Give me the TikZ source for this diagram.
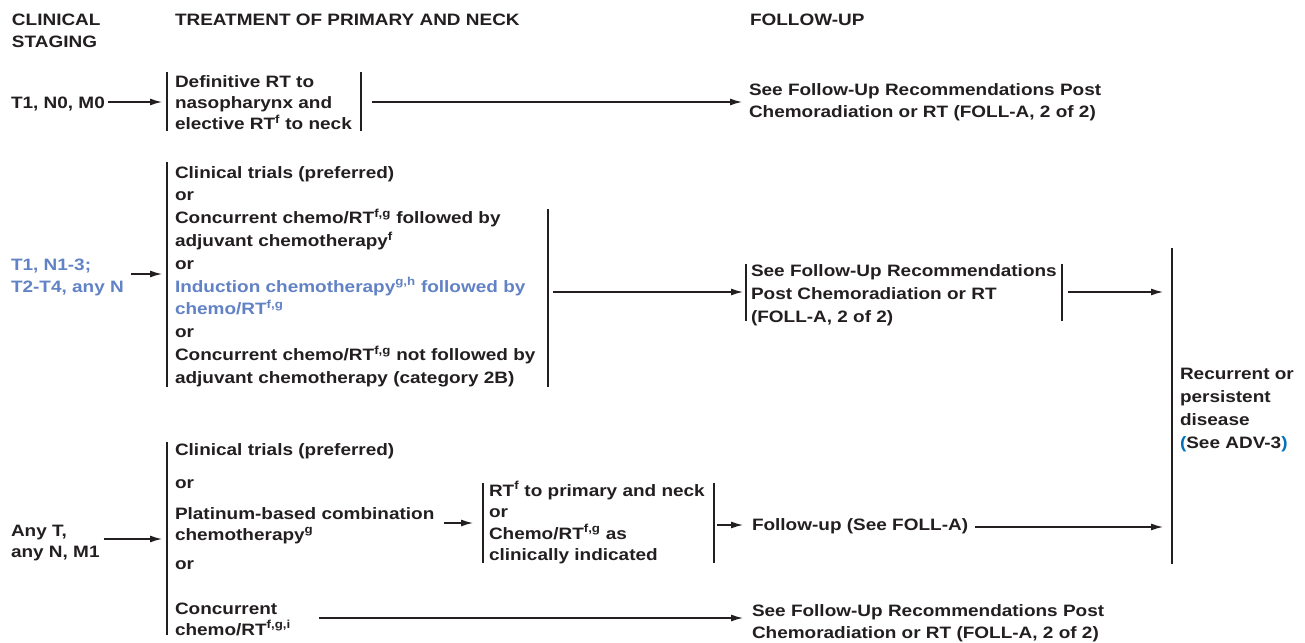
\documentclass[tikz,border=0pt]{standalone}
\usepackage{fontspec}
\setmainfont{Liberation Sans}[FakeStretch=1.15]
\usetikzlibrary{arrows.meta,calc}
\definecolor{ink}{RGB}{35,31,32}
\definecolor{lblue}{RGB}{98,130,198}
\definecolor{dblue}{RGB}{0,114,188}
\begin{document}
\begin{tikzpicture}[x=1pt,y=-1pt,
  every node/.style={inner sep=0pt, outer sep=0pt},
  txt/.style={anchor=base west, align=left, text=ink, font=\fontsize{16.5}{#1}\selectfont\bfseries},
  txt/.default=21,
  bar/.style={draw=ink, line width=1.4pt},
  arr/.style={draw=ink, line width=1.3pt, -{Latex[length=12pt,width=7pt]}}]
\useasboundingbox[fill=white] (0,0) rectangle (1305,642);

% headers (anchor = baseline of the last line)
\node[txt=21.7] (hstage) at (12,47.3) {CLINICAL\\STAGING};
\node[txt] (htreat) at (175,25.6) {TREATMENT OF PRIMARY AND NECK};
\node[txt] (hfollow) at (750,25.6) {FOLLOW-UP};

% row 1
\coordinate (r1) at (0,102);
\node[txt] (s1) at (11,108) {T1, N0, M0};
\node[txt] (t1) at (175,129.6) {Definitive RT to\\nasopharynx and\\elective RT\textsuperscript{f} to neck};
\node[txt] (f1) at (749,117) {See Follow-Up Recommendations Post\\Chemoradiation or RT (FOLL-A, 2 of 2)};
\coordinate (b1lt) at (167,72); \coordinate (b1lb) at (167,131);
\coordinate (b1rt) at (361,72); \coordinate (b1rb) at (361,131);
\draw[bar] (b1lt) -- (b1lb);
\draw[bar] (b1rt) -- (b1rb);
\draw[arr] ($(s1.east |- r1)+(3,0)$) -- ($(b1lt |- r1)+(-5,0)$);
\draw[arr] ($(b1rt |- r1)+(11,0)$) -- ($(f1.west |- r1)+(-7,0)$);

% row 2
\coordinate (r2) at (0,274);
\coordinate (r2b) at (0,292);
\node[txt=22, text=lblue] (s2) at (11,292) {T1, N1-3;\\T2-T4, any N};
\node[txt=22.8] (t2) at (175,383.2) {Clinical trials (preferred)\\or\\Concurrent chemo/RT\textsuperscript{f,g} followed by\\adjuvant chemotherapy\textsuperscript{f}\\or\\{\color{lblue}Induction chemotherapy\textsuperscript{g,h} followed by}\\{\color{lblue}chemo/RT\textsuperscript{f,g}}\\or\\Concurrent chemo/RT\textsuperscript{f,g} not followed by\\adjuvant chemotherapy (category 2B)};
\node[txt=23] (f2) at (751,322) {See Follow-Up Recommendations\\Post Chemoradiation or RT\\(FOLL-A, 2 of 2)};
\node[txt=23] (rec) at (1180,448) {Recurrent or\\persistent\\disease\\{\color{dblue}(}See ADV-3{\color{dblue})}};
\coordinate (b2lt) at (167,162); \coordinate (b2lb) at (167,387);
\coordinate (b2rt) at (548,209); \coordinate (b2rb) at (548,387);
\coordinate (b2ft) at (746,264); \coordinate (b2fb) at (746,321);
\coordinate (b2gt) at (1062,264); \coordinate (b2gb) at (1062,321);
\coordinate (bigt) at (1172,248); \coordinate (bigb) at (1172,564);
\draw[bar] (b2lt) -- (b2lb);
\draw[bar] (b2rt) -- (b2rb);
\draw[bar] (b2ft) -- (b2fb);
\draw[bar] (b2gt) -- (b2gb);
\draw[bar] (bigt) -- (bigb);
\draw[arr] ($(s2.east |- r2)+(7,0)$) -- ($(b2lt |- r2)+(-5,0)$);
\draw[arr] ($(b2rt |- r2b)+(5,0)$) -- ($(b2ft |- r2b)+(-3,0)$);
\draw[arr] ($(b2gt |- r2b)+(6,0)$) -- ($(bigt |- r2b)+(-9,0)$);

% row 3
\coordinate (r3) at (0,539);
\coordinate (r3b) at (0,523);
\coordinate (r3c) at (0,525);
\coordinate (r3d) at (0,527);
\coordinate (r3e) at (0,618);
\node[txt=21.5] (s3) at (11,557.5) {Any T,\\any N, M1};
\node[txt=21] (t3) at (175,569) {Clinical trials (preferred)\\[12pt]or\\[10pt]Platinum-based combination\\chemotherapy\textsuperscript{g}\\[8pt]or};
\node[txt=21] (c3) at (175,635) {Concurrent\\chemo/RT\textsuperscript{f,g,i}};
\node[txt=21.5] (t3b) at (489,560.5) {RT\textsuperscript{f} to primary and neck\\or\\Chemo/RT\textsuperscript{f,g} as\\clinically indicated};
\node[txt] (fu) at (752,530) {Follow-up (See FOLL-A)};
\node[txt=22] (f3) at (752,638) {See Follow-Up Recommendations Post\\Chemoradiation or RT (FOLL-A, 2 of 2)};
\coordinate (b3lt) at (167,442); \coordinate (b3lb) at (167,635);
\coordinate (b3mt) at (483,483); \coordinate (b3mb) at (483,563);
\coordinate (b3nt) at (714,483); \coordinate (b3nb) at (714,563);
\draw[bar] (b3lt) -- (b3lb);
\draw[bar] (b3mt) -- (b3mb);
\draw[bar] (b3nt) -- (b3nb);
\draw[arr] ($(s3.east |- r3)+(4,0)$) -- ($(b3lt |- r3)+(-5,0)$);
\draw[arr] ($(t3.east |- r3b)+(10,0)$) -- ($(b3mt |- r3b)+(-10,0)$);
\draw[arr] ($(b3nt |- r3c)+(3,0)$) -- ($(fu.west |- r3c)+(-9,0)$);
\draw[arr] ($(fu.east |- r3d)+(7,0)$) -- ($(bigt |- r3d)+(-9,0)$);
\draw[arr] ($(c3.east |- r3e)+(28,0)$) -- ($(f3.west |- r3e)+(-9,0)$);
\end{tikzpicture}
\end{document}
